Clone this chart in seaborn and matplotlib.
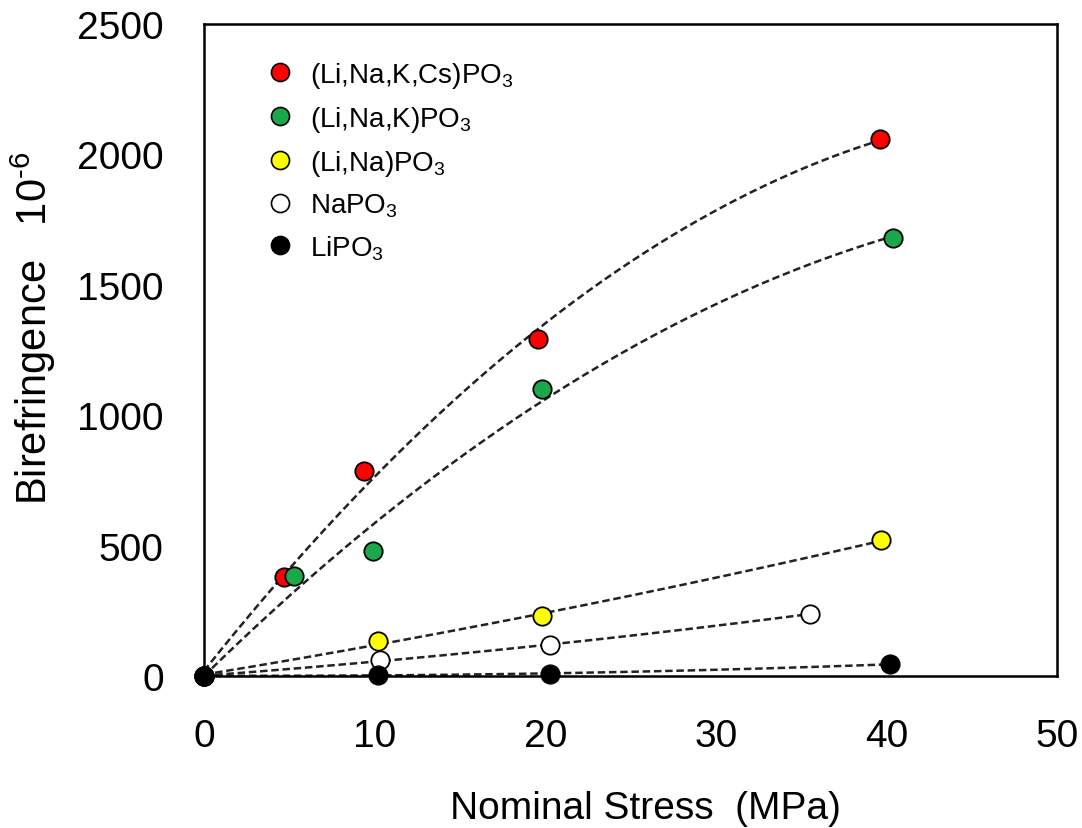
import numpy as np
import pandas as pd
import matplotlib
matplotlib.use("Agg")
import matplotlib.pyplot as plt
import seaborn as sns
from matplotlib.lines import Line2D

# ---- data ----
series_names = ["(Li,Na,K,Cs)PO$_3$", "(Li,Na,K)PO$_3$", "(Li,Na)PO$_3$", "NaPO$_3$", "LiPO$_3$"]
face_colors = ["#ff0000", "#1aa84a", "#ffff00", "#ffffff", "#000000"]

x_cs = [0, 4.7, 9.4, 19.6, 39.6]
y_cs = [0, 380, 785, 1290, 2060]

x_k = [0, 5.3, 9.9, 19.8, 40.4]
y_k = [0, 383, 480, 1100, 1680]

x_na_li = [0, 10.2, 19.8, 39.7]
y_na_li = [0, 135, 228, 520]

x_na = [0, 10.3, 20.3, 35.5]
y_na = [0, 60, 118, 238]

x_li = [0, 10.2, 20.3, 40.2]
y_li = [0, 5, 8, 45]

xs = [x_cs, x_k, x_na_li, x_na, x_li]
ys = [y_cs, y_k, y_na_li, y_na, y_li]

x_ticks = [0, 10, 20, 30, 40, 50]
y_ticks = [0, 500, 1000, 1500, 2000, 2500]

rows = []
for name, xv, yv in zip(series_names, xs, ys):
    for a, b in zip(xv, yv):
        rows.append({"stress": a, "bire": b, "series": name})
df = pd.DataFrame(rows)

sns.set_style("white")
plt.rcParams["font.family"] = ["Liberation Sans", "DejaVu Sans"]
plt.rcParams["mathtext.fontset"] = "custom"
plt.rcParams["mathtext.rm"] = "Liberation Sans"
plt.rcParams["mathtext.it"] = "Liberation Sans:italic"
plt.rcParams["text.color"] = "black"
plt.rcParams["axes.labelcolor"] = "black"
plt.rcParams["xtick.color"] = "black"
plt.rcParams["ytick.color"] = "black"

fig = plt.figure(figsize=(10.82, 8.29), dpi=100)
ax = fig.add_axes([0.1885, 0.1834, 0.7885, 0.7866])

# fitted dashed curves
for name, xv, yv in zip(series_names, xs, ys):
    coef = np.polyfit(xv, yv, 2)
    xx = np.linspace(0, max(xv), 200)
    ax.plot(xx, np.polyval(coef, xx), ls=(0, (3, 1.5)), color="#222222", lw=1.8, zorder=2)

palette = dict(zip(series_names, face_colors))
for name in series_names:
    sub = df[df.series == name]
    sns.scatterplot(data=sub, x="stress", y="bire", color=palette[name], s=175,
                    edgecolor="black", linewidth=1.3, ax=ax, zorder=3, legend=False,
                    clip_on=False)

ax.set_xlim(0, 50)
ax.set_ylim(0, 2500)
ax.set_xticks(x_ticks)
ax.set_yticks(y_ticks)
ax.tick_params(axis="both", direction="in", length=9, width=1.3, labelsize=28)
ax.tick_params(axis="x", pad=30)
ax.tick_params(axis="y", pad=29)
for sp in ax.spines.values():
    sp.set_visible(True)
    sp.set_color("black")
    sp.set_linewidth(1.8)

ax.set_xlabel("Nominal Stress  (MPa)", fontsize=28, labelpad=26)
ax.xaxis.label.set_x(0.5176)
try:
    ax.set_ylabel("Birefringence   10$^{\\text{-}6}$", fontsize=30)
    fig.canvas.draw()
except Exception:
    ax.set_ylabel("Birefringence   10$^{-6}$", fontsize=30)
ax.yaxis.set_label_coords(-0.171, 0.535)
ax.grid(False)

handles = [Line2D([], [], ls="none", marker="o", markersize=13, markerfacecolor=c,
                  markeredgecolor="black", markeredgewidth=1.2) for c in face_colors]
ax.legend(handles, series_names, loc="upper left", bbox_to_anchor=(0.044, 0.983),
          frameon=False, fontsize=20, handletextpad=0.55, labelspacing=0.5,
          handlelength=1.0)

fig.savefig("out.png", dpi=100)
